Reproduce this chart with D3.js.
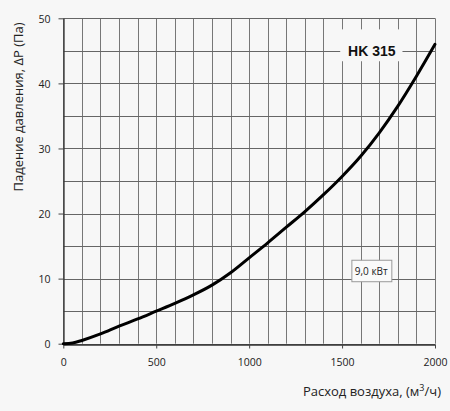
<!DOCTYPE html>
<html>
<head>
<meta charset="utf-8">
<script src="https://cdn.jsdelivr.net/npm/d3@7"></script>
<style>
  html, body { margin: 0; padding: 0; background: #f7f7f7; }
  svg { display: block; }
</style>
</head>
<body>
<div id="viz"></div>
<script>
const width = 450;
const height = 411;
const margin = {top: 18.3, right: 15, bottom: 67.3, left: 63.3};

// Air flow (m3/h) and pressure drop (Pa)
const airFlow = [0, 50, 100, 200, 300, 400, 500, 600, 700, 800, 900, 1000,
  1100, 1200, 1300, 1400, 1500, 1600, 1700, 1800, 1900, 2000];
const pressureDrop = [0, 0.1, 0.5, 1.5, 2.7, 3.8, 5.0, 6.2, 7.5, 9.0, 10.9, 13.2,
  15.5, 17.9, 20.3, 22.9, 25.7, 28.8, 32.4, 36.5, 41.1, 46.0];

const xTicks = [0, 500, 1000, 1500, 2000];
const yTicks = [0, 10, 20, 30, 40, 50];
const xGrid = d3.range(0, 2001, 100);
const yGrid = d3.range(0, 51, 5);

const modelLabel = 'HK 315';
const powerLabel = '9,0 кВт';

const svg = d3.select('#viz')
  .append('svg')
    .attr('width', width)
    .attr('height', height);

const xScale = d3.scaleLinear()
  .domain([0, 2000])
  .range([margin.left, width - margin.right]);

const yScale = d3.scaleLinear()
  .domain([0, 50])
  .range([height - margin.bottom, margin.top]);

// grid
svg.append('g')
  .selectAll('line')
  .data(xGrid)
  .join('line')
    .attr('x1', d => Math.round(xScale(d)) + 0.5)
    .attr('x2', d => Math.round(xScale(d)) + 0.5)
    .attr('y1', yScale(50))
    .attr('y2', yScale(0))
    .attr('stroke', '#777')
    .attr('stroke-width', 1);

svg.append('g')
  .selectAll('line')
  .data(yGrid)
  .join('line')
    .attr('x1', xScale(0))
    .attr('x2', xScale(2000))
    .attr('y1', d => Math.round(yScale(d)) + 0.5)
    .attr('y2', d => Math.round(yScale(d)) + 0.5)
    .attr('stroke', '#666')
    .attr('stroke-width', 1);

// axes
const xAxis = svg.append('g')
  .attr('transform', `translate(0, ${Math.round(yScale(0)) + 0.5})`)
  .call(d3.axisBottom(xScale).tickValues(xTicks).tickFormat(d3.format('d'))
    .tickSize(4).tickSizeOuter(0).tickPadding(7));

const yAxis = svg.append('g')
  .attr('transform', `translate(${Math.round(xScale(0)) + 0.5}, 0)`)
  .call(d3.axisLeft(yScale).tickValues(yTicks).tickSize(5).tickSizeOuter(0).tickPadding(8));

[xAxis, yAxis].forEach(ax => {
  ax.select('.domain').attr('stroke', '#333').attr('stroke-width', 1.3);
  ax.selectAll('.tick line').attr('stroke', '#444');
  ax.selectAll('.tick text')
    .attr('fill', '#222')
    .style('font-family', '"Open Sans", sans-serif')
    .style('font-size', '10.5px');
});
xAxis.selectAll('.tick text').attr('dy', '1em');
yAxis.selectAll('.tick text').attr('dy', '0.36em');

// curve
const line = d3.line()
  .x((d, i) => xScale(airFlow[i]))
  .y(d => yScale(d))
  .curve(d3.curveCatmullRom);

svg.append('path')
  .attr('d', line(pressureDrop))
  .attr('fill', 'none')
  .attr('stroke', '#000')
  .attr('stroke-width', 3)
  .attr('stroke-linecap', 'round');

// model label with a background gap in the grid
svg.append('rect')
  .attr('x', xScale(1490))
  .attr('y', yScale(48.3))
  .attr('width', xScale(1825) - xScale(1490))
  .attr('height', yScale(43.4) - yScale(48.3))
  .attr('fill', '#f7f7f7');

svg.append('text')
  .attr('x', xScale(1660))
  .attr('y', yScale(44.2))
  .attr('text-anchor', 'middle')
  .style('font-family', '"Liberation Sans", Arial, sans-serif')
  .style('font-weight', 'bold')
  .style('font-size', '14px')
  .attr('fill', '#111')
  .text(modelLabel);

// power box
svg.append('rect')
  .attr('x', xScale(1550) + 0.5)
  .attr('y', yScale(12.9) + 0.5)
  .attr('width', xScale(1765) - xScale(1550))
  .attr('height', yScale(9.6) - yScale(12.9))
  .attr('fill', '#fafafa')
  .attr('stroke', '#999')
  .attr('stroke-width', 1);

svg.append('text')
  .attr('x', xScale(1657))
  .attr('y', yScale(10.5))
  .attr('text-anchor', 'middle')
  .style('font-family', '"Open Sans", sans-serif')
  .style('font-size', '10px')
  .attr('fill', '#222')
  .text(powerLabel);

// axis titles
svg.append('text')
  .attr('x', 441)
  .attr('y', 396)
  .attr('text-anchor', 'end')
  .style('font-family', '"Open Sans", sans-serif')
  .style('font-size', '13px')
  .attr('fill', '#222')
  .html('Расход воздуха, (м<tspan dy="-5" font-size="9px">3</tspan><tspan dy="5">/ч)</tspan>');

svg.append('text')
  .attr('transform', 'translate(23, 107) rotate(-90)')
  .attr('text-anchor', 'middle')
  .style('font-family', '"Open Sans", sans-serif')
  .style('font-size', '13px')
  .attr('fill', '#222')
  .text('Падение давления, ΔP (Па)');
</script>
</body>
</html>
